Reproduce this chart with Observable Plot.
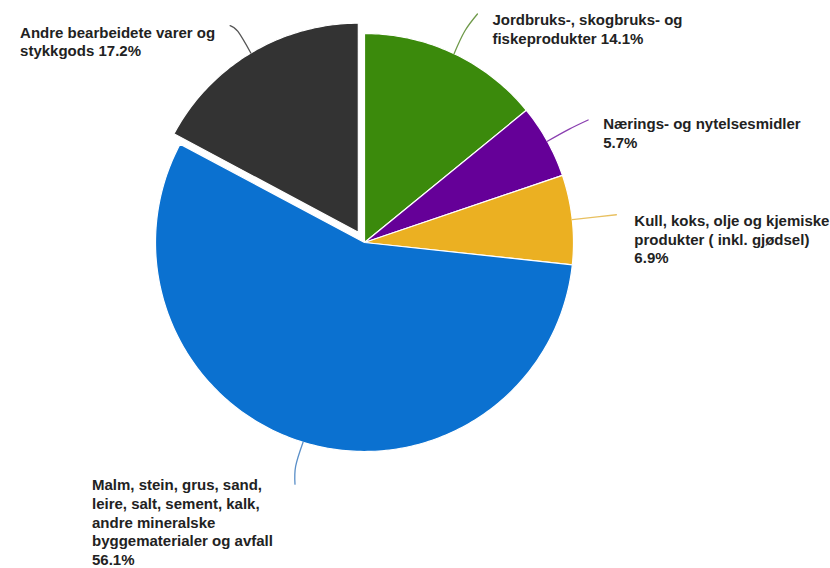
<!DOCTYPE html>
<html>
<head>
<meta charset="utf-8">
<script src="https://cdn.jsdelivr.net/npm/d3@7"></script>
<script src="https://cdn.jsdelivr.net/npm/@observablehq/plot@0.6"></script>
<style>
  html, body { margin: 0; padding: 0; background: #fff; }
</style>
</head>
<body>
<div id="chart"></div>
<script>
// ---- data ----
const categories = [
  "Jordbruks-, skogbruks- og fiskeprodukter",
  "Nærings- og nytelsesmidler",
  "Kull, koks, olje og kjemiske produkter ( inkl. gjødsel)",
  "Malm, stein, grus, sand, leire, salt, sement, kalk, andre mineralske byggematerialer og avfall",
  "Andre bearbeidete varer og stykkgods"
];
const values = [14.1, 5.7, 6.9, 56.1, 17.2];
const labels = [
  "Jordbruks-, skogbruks- og\nfiskeprodukter 14.1%",
  "Nærings- og nytelsesmidler\n5.7%",
  "Kull, koks, olje og kjemiske\nprodukter ( inkl. gjødsel)\n6.9%",
  "Malm, stein, grus, sand,\nleire, salt, sement, kalk,\nandre mineralske\nbyggematerialer og avfall\n56.1%",
  "Andre bearbeidete varer og\nstykkgods 17.2%"
];
const colors = ["#3b8a0c", "#650098", "#ebb022", "#0b71d0", "#333333"];
const leaderColors = ["#6f9a4a", "#8a3fb0", "#e8c060", "#5a8fc8", "#555555"];
const exploded = [false, false, false, false, true];

// ---- layout ----
const W = 830, H = 568;
const cx = 364, cy = 242, R = 209;      // pie centre and radius (px)
const explodePx = 12;
const leaderOut = 1.21;                  // leader end, in radii from centre
const labelDx = [15, 15, 18, -203, -210];
const labelDy = [1, -1, 1, -4, 2];

// ---- geometry (computed from the data) ----
const pie = d3.pie().sort(null).value(d => d.value);
const rows = categories.map((c, i) => ({category: c, value: values[i], color: colors[i], i}));
const arcs = pie(rows);

const polyPts = [];
const leaderPts = [];
const labelRows = [];
arcs.forEach(a => {
  const d = a.data;
  const mid = (a.startAngle + a.endAngle) / 2;
  const off = exploded[d.i] ? explodePx / R : 0;
  const ox = off * Math.sin(mid), oy = -off * Math.cos(mid);
  polyPts.push({key: d.category, x: ox, y: oy, color: d.color});
  const steps = Math.max(4, Math.ceil((a.endAngle - a.startAngle) / (Math.PI / 180)));
  for (let k = 0; k <= steps; k++) {
    const t = a.startAngle + (a.endAngle - a.startAngle) * k / steps;
    polyPts.push({key: d.category, x: ox + Math.sin(t), y: oy - Math.cos(t), color: d.color});
  }
  // leader line (slightly bent, like the original)
  const sx = ox + Math.sin(mid), sy = oy - Math.cos(mid);
  const mx = ox + 1.12 * Math.sin(mid), my = oy - 1.12 * Math.cos(mid);
  const ex = leaderOut * Math.sin(mid + 0.02 * Math.sign(Math.sin(mid))), ey = -leaderOut * Math.cos(mid);
  leaderPts.push({key: d.category, x: sx, y: sy, color: leaderColors[d.i]});
  leaderPts.push({key: d.category, x: mx, y: my, color: leaderColors[d.i]});
  leaderPts.push({key: d.category, x: ex, y: ey, color: leaderColors[d.i]});
  labelRows.push({x: ex + labelDx[d.i] / R, y: ey + labelDy[d.i] / R, text: labels[d.i]});
});

const chart = Plot.plot({
  width: W,
  height: H,
  margin: 0,
  x: {domain: [-cx / R, (W - cx) / R], range: [0, W], axis: null},
  y: {domain: [-cy / R, (H - cy) / R], range: [0, H], axis: null},
  color: {type: "identity"},
  style: {fontFamily: "'Liberation Sans', Arial, sans-serif", background: "#fff"},
  marks: [
    Plot.line(polyPts, {
      x: "x", y: "y", z: "key", fill: "color",
      stroke: "white", strokeWidth: 1.2, curve: "linear-closed"
    }),
    Plot.line(leaderPts, {
      x: "x", y: "y", z: "key", stroke: "color", strokeWidth: 1.3, curve: "natural"
    }),
    Plot.text(labelRows, {
      x: "x", y: "y", text: "text",
      textAnchor: "start", lineAnchor: "top", dy: -3,
      fontSize: 15, fontWeight: "bold", lineHeight: 1.24, fill: "#222"
    })
  ]
});
document.getElementById("chart").appendChild(chart);
</script>
</body>
</html>
